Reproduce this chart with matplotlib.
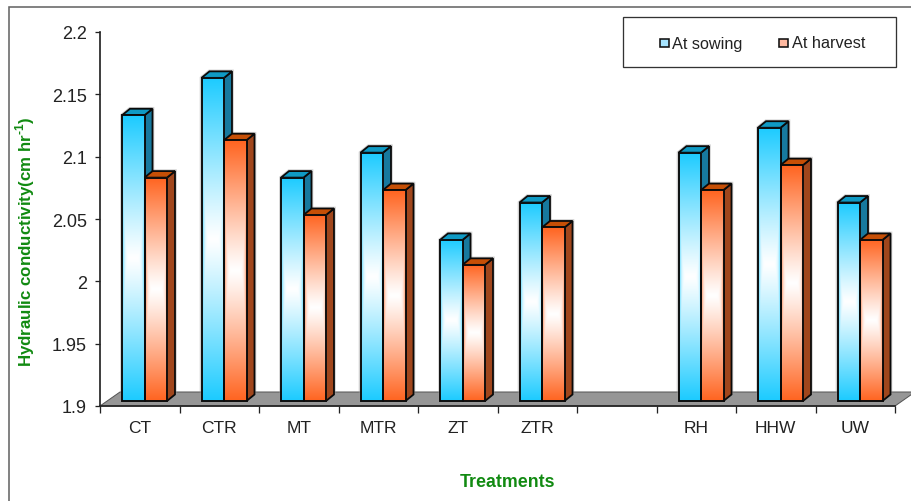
import numpy as np
import matplotlib
matplotlib.use("Agg")
import matplotlib.pyplot as plt
from matplotlib.colors import to_rgb
from matplotlib.patches import Polygon, Rectangle

plt.rcParams['font.family'] = ['Liberation Sans', 'DejaVu Sans']
plt.rcParams['mathtext.fontset'] = 'custom'
plt.rcParams['mathtext.rm'] = 'Liberation Sans'
plt.rcParams['mathtext.bf'] = 'Liberation Sans:bold'

treatments = ['CT', 'CTR', 'MT', 'MTR', 'ZT', 'ZTR', '', 'RH', 'HHW', 'UW']
at_sowing = [2.13, 2.16, 2.08, 2.10, 2.03, 2.06, np.nan, 2.10, 2.12, 2.06]
at_harvest = [2.08, 2.11, 2.05, 2.07, 2.01, 2.04, np.nan, 2.07, 2.09, 2.03]
y_ticks = [1.9, 1.95, 2.0, 2.05, 2.1, 2.15, 2.2]
y_tick_labels = ['1.9', '1.95', '2', '2.05', '2.1', '2.15', '2.2']

W, H = 911, 502
AX_L, AX_R, AX_T, AX_B = 100, 895, 33, 407
DARK = '#222222'
GREEN = '#118a11'
PX = 0.72  # one pixel in points at dpi 100

fig = plt.figure(figsize=(W / 100, H / 100), dpi=100, facecolor='white')
ax = fig.add_axes([AX_L / W, 1 - AX_B / H, (AX_R - AX_L) / W, (AX_B - AX_T) / H])
ax.patch.set_visible(False)
xlim = (0, 10)
ylim = (1.9, 2.2)
xpx = 10 / (AX_R - AX_L)
ypx = 0.3 / (AX_B - AX_T)


def fig_xy(x, y):
    return x / W, 1 - y / H


def gradient(color, n=64):
    # path gradient: white in the middle, full colour at the rim
    v, u = np.meshgrid(np.linspace(-1, 1, n * 3), np.linspace(-1, 1, 40), indexing='ij')
    t = np.maximum(np.abs(v), 0.85 * np.abs(u) ** 5)
    t = np.clip(t, 0, 1) ** 1.1
    c = np.array(to_rgb(color))
    return (1 - t[..., None]) + t[..., None] * c


def draw_bar(x0, width, val, front, side, top):
    base = 1.9 + 5 * ypx
    head = val + 4 * ypx
    dx, dy = 8 * xpx, 6.5 * ypx
    x1 = x0 + width
    # soft grey halo
    ax.add_patch(Polygon([(x0, base), (x0, head), (x0 + dx, head + dy), (x1 + dx, head + dy),
                          (x1 + dx, base + dy), (x1, base)], closed=True, fc='none',
                         ec='#999999', lw=3.6 * PX, alpha=0.45, zorder=3))
    ax.add_patch(Polygon([(x1, base), (x1, head), (x1 + dx, head + dy), (x1 + dx, base + dy)],
                         closed=True, fc=side, ec='#0a0a0a', lw=1.8 * PX, zorder=4))
    ax.add_patch(Polygon([(x0, head), (x0 + dx, head + dy), (x1 + dx, head + dy), (x1, head)],
                         closed=True, fc=top, ec='#0a0a0a', lw=1.8 * PX, zorder=4))
    ax.imshow(gradient(front), extent=(x0, x1, base, head), aspect='auto',
              interpolation='bilinear', zorder=4)
    ax.add_patch(Rectangle((x0, base), width, head - base, fc='none', ec='#0a0a0a',
                           lw=1.9 * PX, zorder=5))


# floor
floor_dx, floor_dy = 20 * xpx, 14 * ypx
ax.add_patch(Polygon([(0, 1.9), (floor_dx, 1.9 + floor_dy), (10 + floor_dx, 1.9 + floor_dy), (10, 1.9)],
                     closed=True, fc='#969696', ec='#555555', lw=1.0 * PX, clip_on=False, zorder=1))

for i in range(len(treatments)):
    if np.isnan(at_sowing[i]):
        continue
    left = i + 22 * xpx
    bar_w = 22.5 * xpx
    draw_bar(left, bar_w, at_sowing[i], '#1ccbff', '#17799e', '#0f9ac4')
    draw_bar(left + bar_w, bar_w, at_harvest[i], '#ff6420', '#a0461c', '#c64f06')

ax.set_xlim(xlim)
ax.set_ylim(ylim)

for s in ['top', 'right']:
    ax.spines[s].set_visible(False)
for s in ['left', 'bottom']:
    ax.spines[s].set_color(DARK)
    ax.spines[s].set_linewidth(1.7 * PX)
    ax.spines[s].set_zorder(6)

ax.set_yticks(y_ticks)
ax.set_yticklabels(y_tick_labels, fontsize=13, color=DARK)
ax.tick_params(axis='y', length=5 * PX, width=1.3 * PX, color=DARK, pad=8 * PX)
ax.set_xticks(np.arange(0, 11))
ax.set_xticklabels([])
ax.tick_params(axis='x', which='major', length=7 * PX, width=1.3 * PX, color=DARK)
ax.set_xticks(np.arange(10) + 0.5, minor=True)
ax.set_xticklabels(treatments, minor=True, fontsize=12.5, color=DARK)
ax.tick_params(axis='x', which='minor', length=0, pad=14 * PX)

fx, fy = fig_xy(25, 242)
fig.text(fx, fy, 'Hydraulic conductivity(cm hr$^{\\mathbf{\u20101}}$)', rotation=90, color=GREEN,
         fontsize=12.2, fontweight='bold', ha='center', va='center')
fx, fy = fig_xy(508, 483)
fig.text(fx, fy, 'Treatments', color=GREEN, fontsize=12.8, fontweight='bold', ha='center', va='center')

# outer frame runs off the right and bottom edges
fig.add_artist(Rectangle(fig_xy(9, H + 10), (W + 10) / W, (H + 2) / H, fc='none', ec='#666666',
                         lw=1.6 * PX, transform=fig.transFigure))

# legend box
fig.add_artist(Rectangle(fig_xy(623, 68), 273 / W, 50 / H, fc='white', ec='#333333',
                         lw=1.3 * PX, transform=fig.transFigure))
for x, swatch, label in [(659.5, '#a6e4ff', 'At sowing'), (778.5, '#ffb9a0', 'At harvest')]:
    fig.add_artist(Rectangle(fig_xy(x, 47.5), 9.5 / W, 8 / H, fc=swatch, ec='#111111',
                             lw=1.6 * PX, transform=fig.transFigure))
    fx, fy = fig_xy(x + 13, 48.5)
    fig.text(fx, fy, label, fontsize=11.7, color=DARK, ha='left', va='baseline')

fig.savefig('out.png', dpi=100)
